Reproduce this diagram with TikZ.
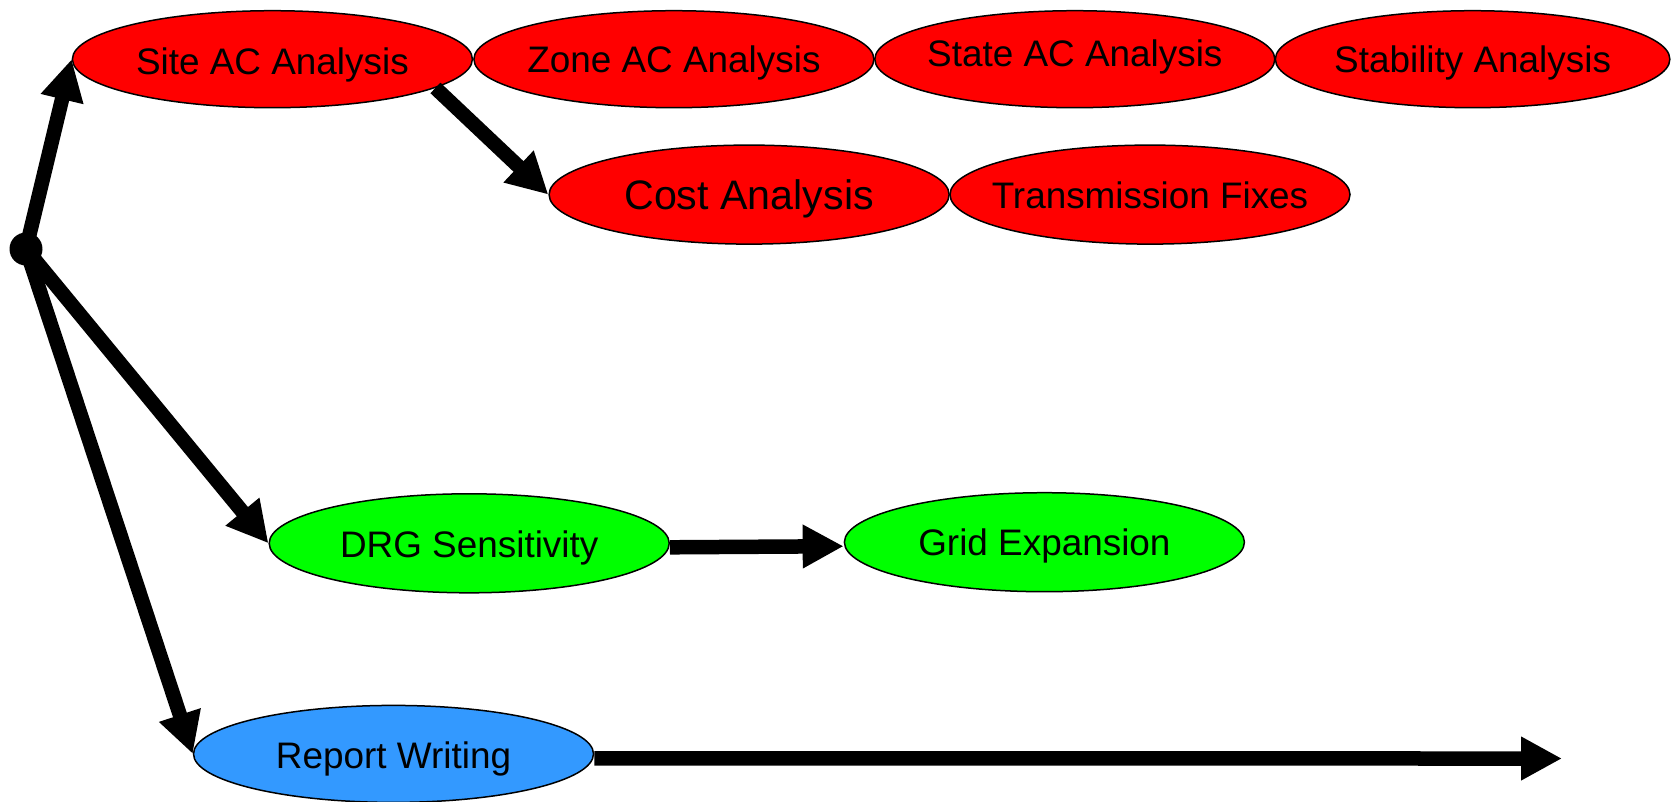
\documentclass[tikz,border=0pt]{standalone}
\usepackage{fontspec}
\setmainfont{Liberation Sans}
\usetikzlibrary{shapes.geometric,arrows.meta}
\definecolor{redfill}{HTML}{FF0000}
\definecolor{greenfill}{HTML}{00FF00}
\definecolor{bluefill}{HTML}{3399FF}
\newcommand{\tasklabel}[2][14pt]{\makebox[0pt][c]{\raisebox{-#1}[0pt][0pt]{#2}}}
\tikzset{
  task/.style={ellipse,draw=black,line width=1.5pt,inner sep=0pt,
    minimum width=400pt,minimum height=97pt,
    font=\fontsize{36.9pt}{44pt}\selectfont},
  redtask/.style={task,fill=redfill},
  greentask/.style={task,fill=greenfill,minimum height=99pt},
  bluetask/.style={task,fill=bluefill},
  flow/.style={line width=14.5pt,-{Triangle[length=41pt,width=41pt]}},
}
\begin{document}
\begin{tikzpicture}[x=1pt,y=-1pt]
\useasboundingbox (0,0) rectangle (1672,801);
% nodes
\node[redtask] (site) at (272.4,59.2) {\tasklabel[15pt]{Site AC Analysis}};
\node[redtask] (zone) at (673.9,59.2) {\tasklabel[13.5pt]{Zone AC Analysis}};
\node[redtask] (state) at (1074.8,59.2) {\tasklabel[7.5pt]{State AC Analysis}};
\node[redtask,minimum width=394.5pt] (stab) at (1472.6,59.2) {\tasklabel[13.5pt]{Stability Analysis}};
\node[redtask,minimum height=99pt,font=\fontsize{41.2pt}{48pt}\selectfont] (cost) at (749.1,194.6) {\tasklabel[15pt]{Cost Analysis}};
\node[redtask,minimum height=99pt] (trans) at (1150,194.6) {\tasklabel{Transmission Fixes}};
\node[greentask] (drg) at (469.2,543.3) {\tasklabel{DRG Sensitivity}};
\node[greentask] (grid) at (1044.4,542.2) {\tasklabel[13pt]{Grid Expansion}};
\node[bluetask] (report) at (393.5,753.9) {\tasklabel[14.5pt]{Report Writing}};
\node[circle,fill=black,inner sep=0pt,minimum size=33pt] (start) at (26,249) {};
\coordinate (reportend) at (1562,758.5);
% connectors
\draw[flow] (start.center) -- (site.west);
\draw[flow] (start.center) -- (drg.west);
\draw[flow] (start.center) -- (report.west);
\draw[flow] (site.-10) -- (cost.west);
\draw[flow] ([yshift=-4pt]drg.east) -- ([yshift=-4pt]grid.west);
\draw[flow] ([yshift=-4.5pt]report.east) -- (reportend);
\end{tikzpicture}
\end{document}
